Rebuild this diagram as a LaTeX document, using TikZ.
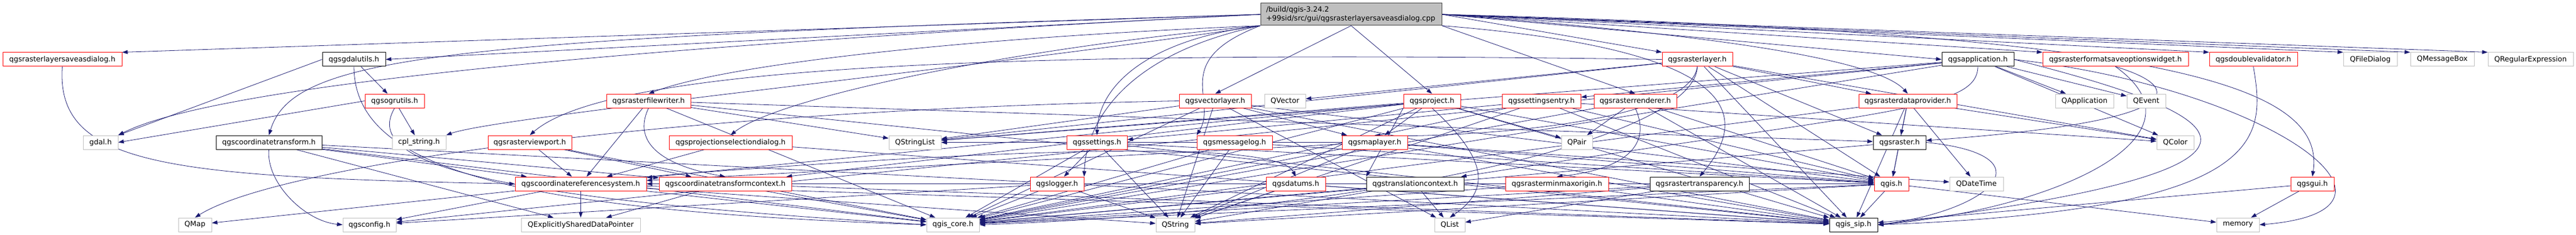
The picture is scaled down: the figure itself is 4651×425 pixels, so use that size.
\documentclass[tikz,border=0pt]{standalone}
\usepackage{fontspec}
\setmainfont{DejaVu Sans}
\usetikzlibrary{arrows.meta}
\pgfdeclarelayer{edgelayer}
\pgfsetlayers{edgelayer,main}
\definecolor{edgec}{HTML}{191970}
\definecolor{graybd}{HTML}{BFBFBF}
\definecolor{redbd}{HTML}{FF0000}
\definecolor{darkbd}{HTML}{404040}
\begin{document}
\begin{tikzpicture}[x=1pt,y=-1pt,
  every node/.style={font=\fontsize{13}{16}\selectfont, inner sep=0pt, minimum height=25pt, fill=white, line width=1pt},
  redbox/.style={draw=redbd},
  graybox/.style={draw=graybd},
  darkbox/.style={draw=black},
  mainbox/.style={draw=darkbd, fill=graybd},
  dep/.style={draw=edgec, line width=0.8pt, -{Triangle[length=10pt,width=7pt]}}
]
\useasboundingbox (0,0) rectangle (4651,425);
% main
\node[mainbox, minimum width=327pt, minimum height=40pt, text width=307pt, align=left] (main) at (2439.5,26) {/build/qgis-3.24.2\\+99sid/src/gui/qgsrasterlayersaveasdialog.cpp};
% row 1
\node[redbox, minimum width=215pt] (dlgh) at (112.5,107.5) {qgsrasterlayersaveasdialog.h};
\node[darkbox, minimum width=114pt] (gdalutils) at (639,107.5) {qgsgdalutils.h};
\node[redbox, minimum width=127pt] (rlayer) at (3064.5,107.5) {qgsrasterlayer.h};
\node[darkbox, minimum width=130pt] (app) at (3571,107.5) {qgsapplication.h};
\node[redbox, minimum width=263pt] (fmtw) at (3819.5,107.5) {qgsrasterformatsaveoptionswidget.h};
\node[redbox, minimum width=159pt] (dval) at (4068.5,107.5) {qgsdoublevalidator.h};
\node[graybox, minimum width=97pt] (qfd) at (4279.5,107.5) {QFileDialog};
\node[graybox, minimum width=115pt] (qmb) at (4409.5,107.5) {QMessageBox};
\node[graybox, minimum width=154pt] (qre) at (4569,107.5) {QRegularExpression};
% row 2
\node[redbox, minimum width=107pt] (ogr) at (712.5,182.5) {qgsogrutils.h};
\node[redbox, minimum width=152pt] (fw) at (1171,182.5) {qgsrasterfilewriter.h};
\node[redbox, minimum width=130pt] (vl) at (2194,182.5) {qgsvectorlayer.h};
\node[graybox, minimum width=74pt] (qvec) at (2320,182.5) {QVector};
\node[redbox, minimum width=103pt] (proj) at (2585.5,182.5) {qgsproject.h};
\node[redbox, minimum width=142pt] (sentry) at (2783,182.5) {qgssettingsentry.h};
\node[redbox, minimum width=149pt] (rrend) at (2952.5,182.5) {qgsrasterrenderer.h};
\node[redbox, minimum width=177pt] (rdp) at (3444.5,182.5) {qgsrasterdataprovider.h};
\node[graybox, minimum width=105pt] (qapp) at (3763.5,182.5) {QApplication};
\node[graybox, minimum width=70pt] (qev) at (3875,182.5) {QEvent};
% row 3
\node[graybox, minimum width=63pt] (gdal) at (181.5,257.5) {gdal.h};
\node[darkbox, minimum width=191pt] (ct) at (485.5,257.5) {qgscoordinatetransform.h};
\node[graybox, minimum width=97pt] (cpl) at (756.5,257.5) {cpl\_string.h};
\node[redbox, minimum width=151pt] (vp) at (956.5,257.5) {qgsrasterviewport.h};
\node[redbox, minimum width=222pt] (psd) at (1319,257.5) {qgsprojectionselectiondialog.h};
\node[graybox, minimum width=94pt] (qsl) at (1652,257.5) {QStringList};
\node[redbox, minimum width=109pt] (set) at (1980.5,257.5) {qgssettings.h};
\node[redbox, minimum width=136pt] (mlog) at (2229,257.5) {qgsmessagelog.h};
\node[redbox, minimum width=118pt] (ml) at (2482,257.5) {qgsmaplayer.h};
\node[graybox, minimum width=56pt] (qpair) at (2847,257.5) {QPair};
\node[darkbox, minimum width=95pt] (raster) at (3429.5,257.5) {qgsraster.h};
\node[graybox, minimum width=67pt] (qcol) at (3927.5,257.5) {QColor};
% row 4
\node[redbox, minimum width=237pt] (crs) at (1048.5,332.5) {qgscoordinatereferencesystem.h};
\node[redbox, minimum width=239pt] (ctc) at (1309.5,332.5) {qgscoordinatetransformcontext.h};
\node[redbox, minimum width=97pt] (log) at (1908.5,332.5) {qgslogger.h};
\node[redbox, minimum width=107pt] (dat) at (2339.5,332.5) {qgsdatums.h};
\node[darkbox, minimum width=176pt] (tc) at (2555,332.5) {qgstranslationcontext.h};
\node[redbox, minimum width=186pt] (mmo) at (2811,332.5) {qgsrasterminmaxorigin.h};
\node[darkbox, minimum width=179pt] (rt) at (3068.5,332.5) {qgsrastertransparency.h};
\node[redbox, minimum width=62pt] (qgis) at (3415,332.5) {qgis.h};
\node[graybox, minimum width=97pt] (qdt) at (3568.5,332.5) {QDateTime};
\node[redbox, minimum width=78pt] (gui) at (4175,332.5) {qgsgui.h};
% row 5
\node[graybox, minimum width=60pt] (qmap) at (352,406.5) {QMap};
\node[graybox, minimum width=96pt] (cfg) at (667,406.5) {qgsconfig.h};
\node[graybox, minimum width=215pt] (esdp) at (1048.5,406.5) {QExplicitlySharedDataPointer};
\node[graybox, minimum width=95pt] (core) at (1720.5,406.5) {qgis\_core.h};
\node[graybox, minimum width=70pt] (qstr) at (2122,406.5) {QString};
\node[graybox, minimum width=55pt] (qlist) at (2617.5,406.5) {QList};
\node[darkbox, minimum width=87pt] (sip) at (3346.5,406.5) {qgis\_sip.h};
\node[graybox, minimum width=77pt] (mem) at (4040.5,406.5) {memory};

\begin{pgfonlayer}{edgelayer}
% from main
\draw[dep] (main.west) -- (dlgh.north east);
\draw[dep] (main.west) -- (gdalutils.east);
\draw[dep] (main.west) .. controls (800,70) and (530,100) .. (ct.north);
\draw[dep] (main.west) .. controls (1200,80) and (400,150) .. (gdal.north east);
\draw[dep] (main.south west) .. controls (1800,120) and (900,210) .. (cpl.north east);
\draw[dep] (main.south west) .. controls (1700,70) and (1300,120) .. (fw.north);
\draw[dep] (main.south west) .. controls (1800,90) and (1400,180) .. (psd.north);
\draw[dep] (main.south west) .. controls (2080,70) and (1985,150) .. (set.north);
\draw[dep] (main.south west) .. controls (2020,100) and (1960,230) .. (log.north east);
\draw[dep] (main.south west) .. controls (2110,110) and (2200,180) .. (mlog.north west);
\draw[dep] (main.south) -- (vl.north);
\draw[dep] (main.south) -- (proj.north);
\draw[dep] (main.south east) -- (rrend.north);
\draw[dep] (main.east) -- (rlayer.north west);
\draw[dep] (main.south east) .. controls (3150,90) and (3160,210) .. (rt.north);
\draw[dep] (main.east) .. controls (3200,70) and (3400,120) .. (rdp.north);
\draw[dep] (main.east) -- (app.west);
\draw[dep] (main.east) -- (fmtw.north west);
\draw[dep] (main.east) -- (dval.north west);
\draw[dep] (main.east) .. controls (3900,60) and (4200,150) .. (gui.north);
\draw[dep] (main.east) -- (qfd.north west);
\draw[dep] (main.east) -- (qmb.north west);
\draw[dep] (main.east) -- (qre.north west);
% dialog header
\draw[dep] (dlgh.south) .. controls (100,300) and (300,320) .. (crs.west);
% gdal utils
\draw[dep] (gdalutils) -- (ogr);
\draw[dep] (gdalutils.west) -- (gdal.north east);
\draw[dep] (gdalutils.south) .. controls (640,300) and (900,380) .. (core.west);
% ogr
\draw[dep] (ogr) -- (cpl);
\draw[dep] (ogr.west) -- (gdal.east);
\draw[dep] (ogr.south) .. controls (650,300) and (900,360) .. (core.west);
% coordinate transform
\draw[dep] (ct) -- (crs);
\draw[dep] (ct) -- (ctc);
\draw[dep] (ct.south) .. controls (480,330) and (550,400) .. (cfg.west);
\draw[dep] (ct) -- (core);
\draw[dep] (ct) -- (sip);
\draw[dep] (ct) -- (esdp);
% viewport
\draw[dep] (vp) -- (crs);
\draw[dep] (vp) -- (ctc);
\draw[dep] (vp) -- (core);
% file writer
\draw[dep] (fw) -- (crs);
\draw[dep] (fw.south) .. controls (1140,260) and (1200,300) .. (ctc.north);
\draw[dep] (fw) -- (raster);
\draw[dep] (fw) -- (core);
\draw[dep] (fw) -- (sip);
\draw[dep] (fw) -- (qsl);
% projection selection dialog
\draw[dep] (psd) -- (crs);
\draw[dep] (psd) -- (sip);
% transform context
\draw[dep] (ctc) -- (crs);
\draw[dep] (ctc) -- (core);
\draw[dep] (ctc) -- (sip);
\draw[dep] (ctc) -- (esdp);
% crs
\draw[dep] (crs) -- (esdp);
\draw[dep] (crs) -- (core);
\draw[dep] (crs) -- (sip);
\draw[dep] (crs) -- (cfg);
\draw[dep] (crs) -- (qmap);
\draw[dep] (crs) -- (qgis);
\draw[dep] (crs) -- (qstr);
\draw[dep] (crs.north east) .. controls (1600,285) and (2300,240) .. (dat.north);
% settings
\draw[dep] (set) -- (log);
\draw[dep] (set) -- (core);
\draw[dep] (set) -- (qsl);
\draw[dep] (set) -- (qstr);
\draw[dep] (set) -- (sip);
\draw[dep] (set) -- (qgis);
% logger
\draw[dep] (log) -- (core);
\draw[dep] (log) -- (qstr);
\draw[dep] (log) -- (cfg);
% message log
\draw[dep] (mlog) -- (core);
\draw[dep] (mlog) -- (qstr);
\draw[dep] (mlog) -- (qgis);
% vector layer
\draw[dep] (vl) -- (ml);
\draw[dep] (vl) -- (core);
\draw[dep] (vl) -- (sip);
\draw[dep] (vl) -- (qstr);
\draw[dep] (vl) -- (qsl);
\draw[dep] (vl) -- (qlist);
\draw[dep] (vl.west) .. controls (1200,200) and (500,300) .. (qmap.north);
\draw[dep] (vl) -- (qgis);
% project
\draw[dep] (proj.south west) -- (tc.north west);
\draw[dep] (proj.south) .. controls (2700,300) and (2680,350) .. (qlist.north);
\draw[dep] (proj) -- (qpair);
\draw[dep] (proj) -- (ml);
\draw[dep] (proj) -- (qgis);
\draw[dep] (proj) -- (sip);
\draw[dep] (proj) -- (core);
\draw[dep] (proj) -- (qstr);
\draw[dep] (proj) -- (qsl);
\draw[dep] (proj) -- (crs);
\draw[dep] (proj) -- (ctc);
% map layer
\draw[dep] (ml) -- (qgis);
\draw[dep] (ml) -- (sip);
\draw[dep] (ml) -- (core);
\draw[dep] (ml) -- (qstr);
\draw[dep] (ml) -- (qsl);
\draw[dep] (ml) -- (qdt);
\draw[dep] (ml) -- (crs);
% settings entry
\draw[dep] (sentry) -- (set);
\draw[dep] (sentry) -- (qstr);
\draw[dep] (sentry) -- (qcol);
\draw[dep] (sentry) -- (qgis);
\draw[dep] (sentry) -- (core);
\draw[dep] (sentry) -- (sip);
% raster renderer
\draw[dep] (rrend) -- (qpair);
\draw[dep] (rrend.south) .. controls (2990,280) and (2900,310) .. (mmo.north);
\draw[dep] (rrend) -- (core);
\draw[dep] (rrend) -- (sip);
\draw[dep] (rrend) -- (qgis);
% raster layer
\draw[dep] (rlayer.south) .. controls (3050,230) and (2600,250) .. (ml.north);
\draw[dep] (rlayer) -- (raster);
\draw[dep] (rlayer) -- (rdp);
\draw[dep] (rlayer.west) .. controls (1800,90) and (1100,120) .. (vp.north);
\draw[dep] (rlayer.south) .. controls (3060,250) and (2500,380) .. (core.east);
\draw[dep] (rlayer) -- (sip);
\draw[dep] (rlayer) -- (qvec);
\draw[dep] (rlayer) -- (qsl);
\draw[dep] (rlayer) -- (qgis);
\draw[dep] (rlayer) -- (qcol);
% raster data provider
\draw[dep] (rdp) -- (raster);
\draw[dep] (rdp) -- (qdt);
\draw[dep] (rdp) -- (core);
\draw[dep] (rdp) -- (sip);
\draw[dep] (rdp) -- (qgis);
\draw[dep] (rdp) -- (qcol);
% raster
\draw[dep] (raster) -- (qgis);
\draw[dep] (raster) -- (core);
\draw[dep] (raster.east) .. controls (3700,280) and (3600,380) .. (sip.east);
% qgis.h
\draw[dep] (qgis) -- (sip);
\draw[dep] (qgis) -- (core);
\draw[dep] (qgis) -- (qstr);
\draw[dep] (qgis) -- (mem);
% application
\draw[dep] (app) -- (qapp);
\draw[dep] (app) -- (qev);
\draw[dep] (app) -- (qcol);
\draw[dep] (app) -- (cfg);
\draw[dep] (app) -- (core);
\draw[dep] (app.east) .. controls (4000,200) and (4250,300) .. (sip.east);
\draw[dep] (app) -- (qsl);
\draw[dep] (app) -- (sentry);
\draw[dep] (app.east) .. controls (4100,160) and (4400,380) .. (mem.east);
\draw[dep] (app.south) .. controls (3570,200) and (3400,200) .. (tc);
% format widget
\draw[dep] (fmtw.south) .. controls (3950,160) and (3950,220) .. (raster);
\draw[dep] (fmtw.south) .. controls (4000,250) and (3700,380) .. (sip.east);
% double validator
\draw[dep] (dval.south) .. controls (4090,250) and (4100,380) .. (sip.east);
% gui
\draw[dep] (gui) -- (mem);
\draw[dep] (gui) -- (sip);
% transparency
\draw[dep] (rt) -- (core);
\draw[dep] (rt) -- (qlist);
\draw[dep] (rt) -- (qstr);
% minmax origin
\draw[dep] (mmo) -- (core);
\draw[dep] (mmo) -- (sip);
\draw[dep] (mmo) -- (qgis);
% translation context
\draw[dep] (tc) -- (qlist);
\draw[dep] (tc) -- (qstr);
\draw[dep] (tc) -- (core);
% datums
\draw[dep] (dat) -- (core);
\draw[dep] (dat) -- (qstr);
\draw[dep] (dat) -- (sip);
\end{pgfonlayer}
\end{tikzpicture}
\end{document}
